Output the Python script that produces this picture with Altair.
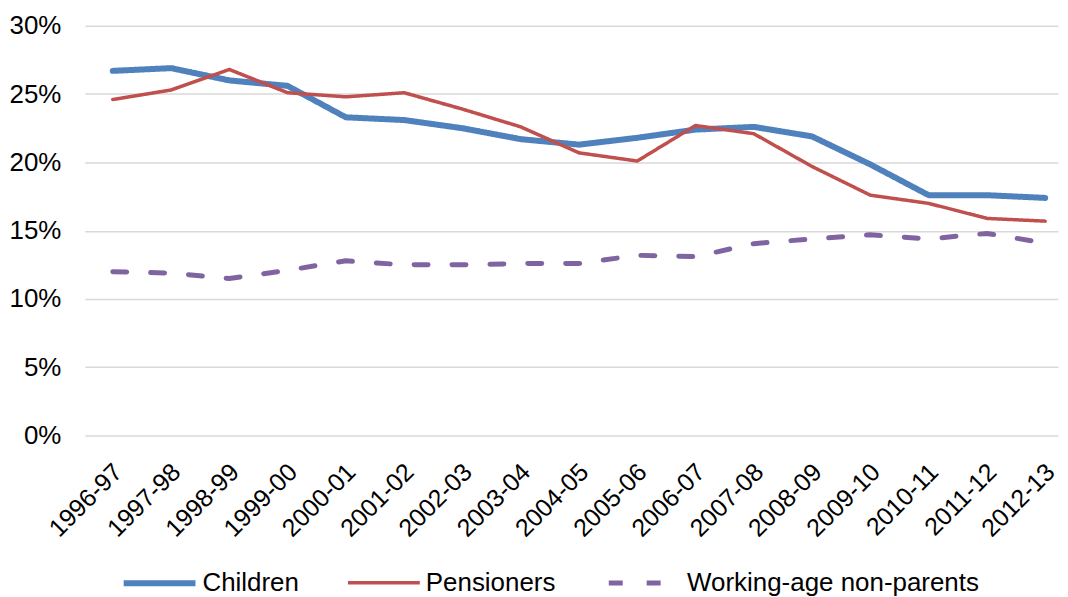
import pandas as pd
import altair as alt

years = ['1996-97', '1997-98', '1998-99', '1999-00', '2000-01', '2001-02',
         '2002-03', '2003-04', '2004-05', '2005-06', '2006-07', '2007-08',
         '2008-09', '2009-10', '2010-11', '2011-12', '2012-13']

children = [26.7, 26.9, 26.0, 25.6, 23.3, 23.1, 22.5, 21.7, 21.3, 21.8,
            22.4, 22.6, 21.9, 19.85, 17.6, 17.6, 17.4]
pensioners = [24.6, 25.3, 26.8, 25.1, 24.8, 25.1, 23.9, 22.6, 20.7, 20.1,
              22.7, 22.1, 19.7, 17.6, 17.0, 15.9, 15.7]
non_parents = [12.0, 11.9, 11.5, 12.1, 12.8, 12.5, 12.5, 12.6, 12.6, 13.2,
               13.1, 14.05, 14.4, 14.7, 14.4, 14.8, 14.1]

series = ['Children', 'Pensioners', 'Working-age non-parents']

rows = []
for name, vals in zip(series, [children, pensioners, non_parents]):
    for i, (y, v) in enumerate(zip(years, vals)):
        rows.append({'idx': i, 'year': y, 'group': name, 'rate': v / 100})
data = pd.DataFrame(rows)

# x axis is the year index, labels looked up from the years list
year_expr = '[' + ','.join("'%s'" % y for y in years) + '][datum.value]'

chart = alt.Chart(data).mark_line(strokeCap='round', strokeJoin='round').encode(
    alt.X('idx:Q', title=None,
          scale=alt.Scale(domain=[-0.48, 16.22], nice=False, zero=False),
          axis=alt.Axis(values=list(range(len(years))), labelExpr=year_expr,
                        labelAngle=-45, labelAlign='right', labelBaseline='middle',
                        labelPadding=32, labelOffset=5, ticks=False, domain=False,
                        grid=False, labelFontSize=25, labelFlush=False,
                        labelOverlap=False)),
    alt.Y('rate:Q', title=None,
          scale=alt.Scale(domain=[0, 0.3], nice=False),
          axis=alt.Axis(format='.0%', values=[0, 0.05, 0.1, 0.15, 0.2, 0.25, 0.3],
                        ticks=False, domain=False, labelPadding=24,
                        gridColor='#d9d9d9', gridWidth=1.5, labelFontSize=26)),
    alt.Color('group:N', sort=series, title=None,
              scale=alt.Scale(domain=series, range=['#4f81bd', '#c0504d', '#8064a2'])),
    alt.StrokeWidth('group:N', sort=series, title=None,
                    scale=alt.Scale(type='ordinal', domain=series, range=[6, 3.5, 5])),
    alt.StrokeDash('group:N', sort=series, title=None,
                   scale=alt.Scale(domain=series, range=[[1, 0], [1, 0], [14, 24]])),
).properties(
    width=976, height=411, padding={'top': 4, 'left': 0, 'right': 0, 'bottom': 0}
).configure_view(
    stroke=None
).configure_axis(
    labelFont='Liberation Sans', labelColor='#000000'
).configure_legend(
    orient='none', legendX=36, legendY=520, direction='horizontal',
    symbolType='stroke', symbolSize=5184, labelFont='Liberation Sans',
    labelFontSize=26, labelColor='#000000', labelOffset=4, columnPadding=42,
    labelLimit=400
)

chart.save("out.html", embed_options={"renderer": "svg", "actions": False})
